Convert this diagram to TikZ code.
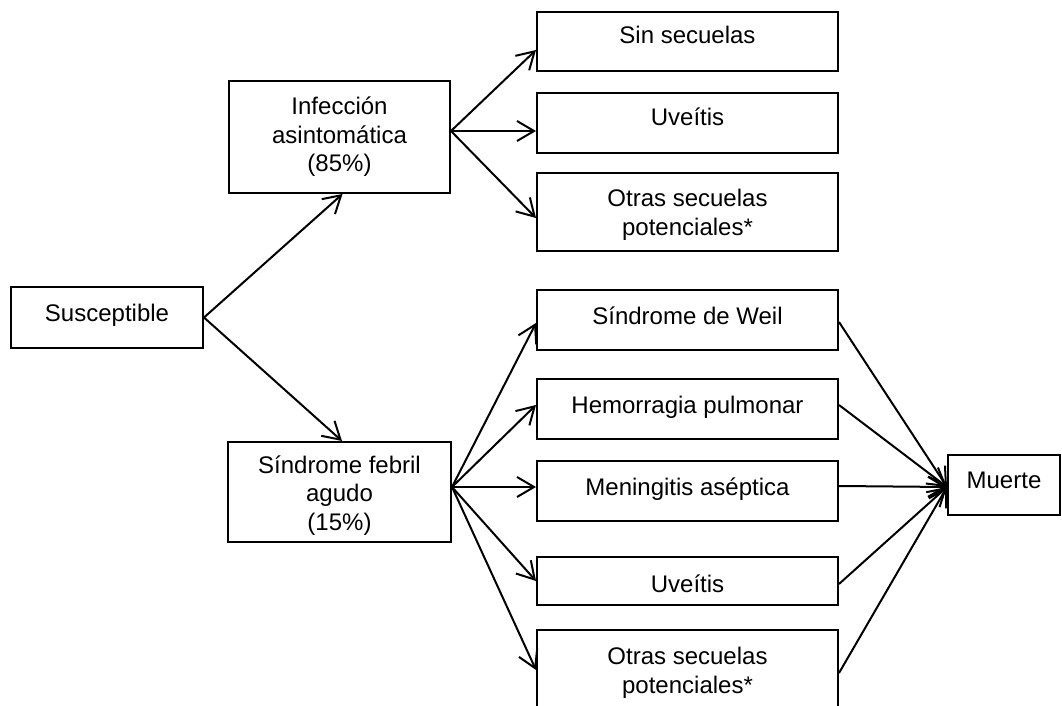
\documentclass[tikz,border=0pt]{standalone}
\usepackage{fontspec}
\setmainfont{Liberation Sans}
\usetikzlibrary{arrows.meta,calc}
\begin{document}
\begin{tikzpicture}[x=0.5pt,y=-0.5pt,
  box/.style={draw,line width=1pt,inner sep=0pt,align=center,font=\fontsize{12}{14.25}\selectfont},
  colbox/.style={box,minimum width=150.5pt},
  arr/.style={line width=1pt,-{Straight Barb[length=8.5pt,width=10pt]}}]
\useasboundingbox (0,0) rectangle (1062,706);
\clip (0,0) rectangle (1062,706);
% nodes
\node[box,minimum width=96pt,minimum height=30.5pt,text height=9pt,text depth=4.8pt] (sus) at (107,317.5) {Susceptible};
\node[box,minimum width=110.5pt,minimum height=56pt] (inf) at (339.5,137) {Infección\\asintomática\\(85\%)};
\node[box,minimum width=111.5pt,minimum height=50pt] (feb) at (339.5,492) {\rule{0pt}{12.3pt}Síndrome febril\\agudo\\(15\%)};
\node[colbox,minimum height=29.5pt,text height=9pt,text depth=6.6pt] (sin) at (687.5,41.5) {Sin secuelas};
\node[colbox,minimum height=30pt,text height=9pt,text depth=6pt] (uv1) at (687.5,123) {Uveítis};
\node[colbox,minimum height=39pt] (ot1) at (687.5,212) {\rule{0pt}{11.7pt}Otras secuelas\\potenciales*};
\node[colbox,minimum height=30pt,text height=9pt,text depth=5pt] (weil) at (687.5,320) {Síndrome de Weil};
\node[colbox,minimum height=30pt,text height=9pt,text depth=4.8pt] (hem) at (687.5,409) {Hemorragia pulmonar};
\node[colbox,minimum height=30pt,text height=9pt,text depth=4.3pt] (men) at (687.5,491) {Meningitis aséptica};
\node[colbox,minimum height=24pt,text height=11pt,text depth=0pt] (uv2) at (687.5,581) {Uveítis};
\node[colbox,minimum height=43pt] (ot2) at (687.5,673) {Otras secuelas\\potenciales*};
\node[box,minimum width=56pt,minimum height=30pt,text height=9pt,text depth=5.4pt] (mue) at (1004,485) {Muerte};
% connectors
\draw[arr] (sus.east) -- ($(inf.south)+(3,0)$);
\draw[arr] (sus.east) -- ($(feb.north)+(2.5,0)$);
\draw[arr] ($(inf.east)+(0,-6)$) -- ($(sin.west)+(0,8.5)$);
\draw[arr] ($(inf.east)+(0,-6)$) -- ($(uv1.west)+(0,8)$);
\draw[arr] ($(inf.east)+(0,-6)$) -- ($(ot1.west)+(0,6)$);
\draw[arr] ($(feb.east)+(0,-5)$) -- ($(weil.west)+(0,3)$);
\draw[arr] ($(feb.east)+(0,-5)$) -- ($(hem.west)+(0,-4)$);
\draw[arr] ($(feb.east)+(0,-5)$) -- ($(men.west)+(0,-4)$);
\draw[arr] ($(feb.east)+(0,-5)$) -- (uv2.west);
\draw[arr] ($(feb.east)+(0,-5)$) -- ($(ot2.west)+(0,-3)$);
\draw[arr] ($(weil.east)+(0,2)$) -- ($(mue.west)+(0,2)$);
\draw[arr] ($(hem.east)+(0,-4)$) -- ($(mue.west)+(0,2)$);
\draw[arr] ($(men.east)+(0,-5)$) -- ($(mue.west)+(0,2)$);
\draw[arr] ($(uv2.east)+(0,3)$) -- ($(mue.west)+(0,2)$);
\draw[arr] (ot2.east) -- ($(mue.west)+(0,2)$);
\end{tikzpicture}
\end{document}
